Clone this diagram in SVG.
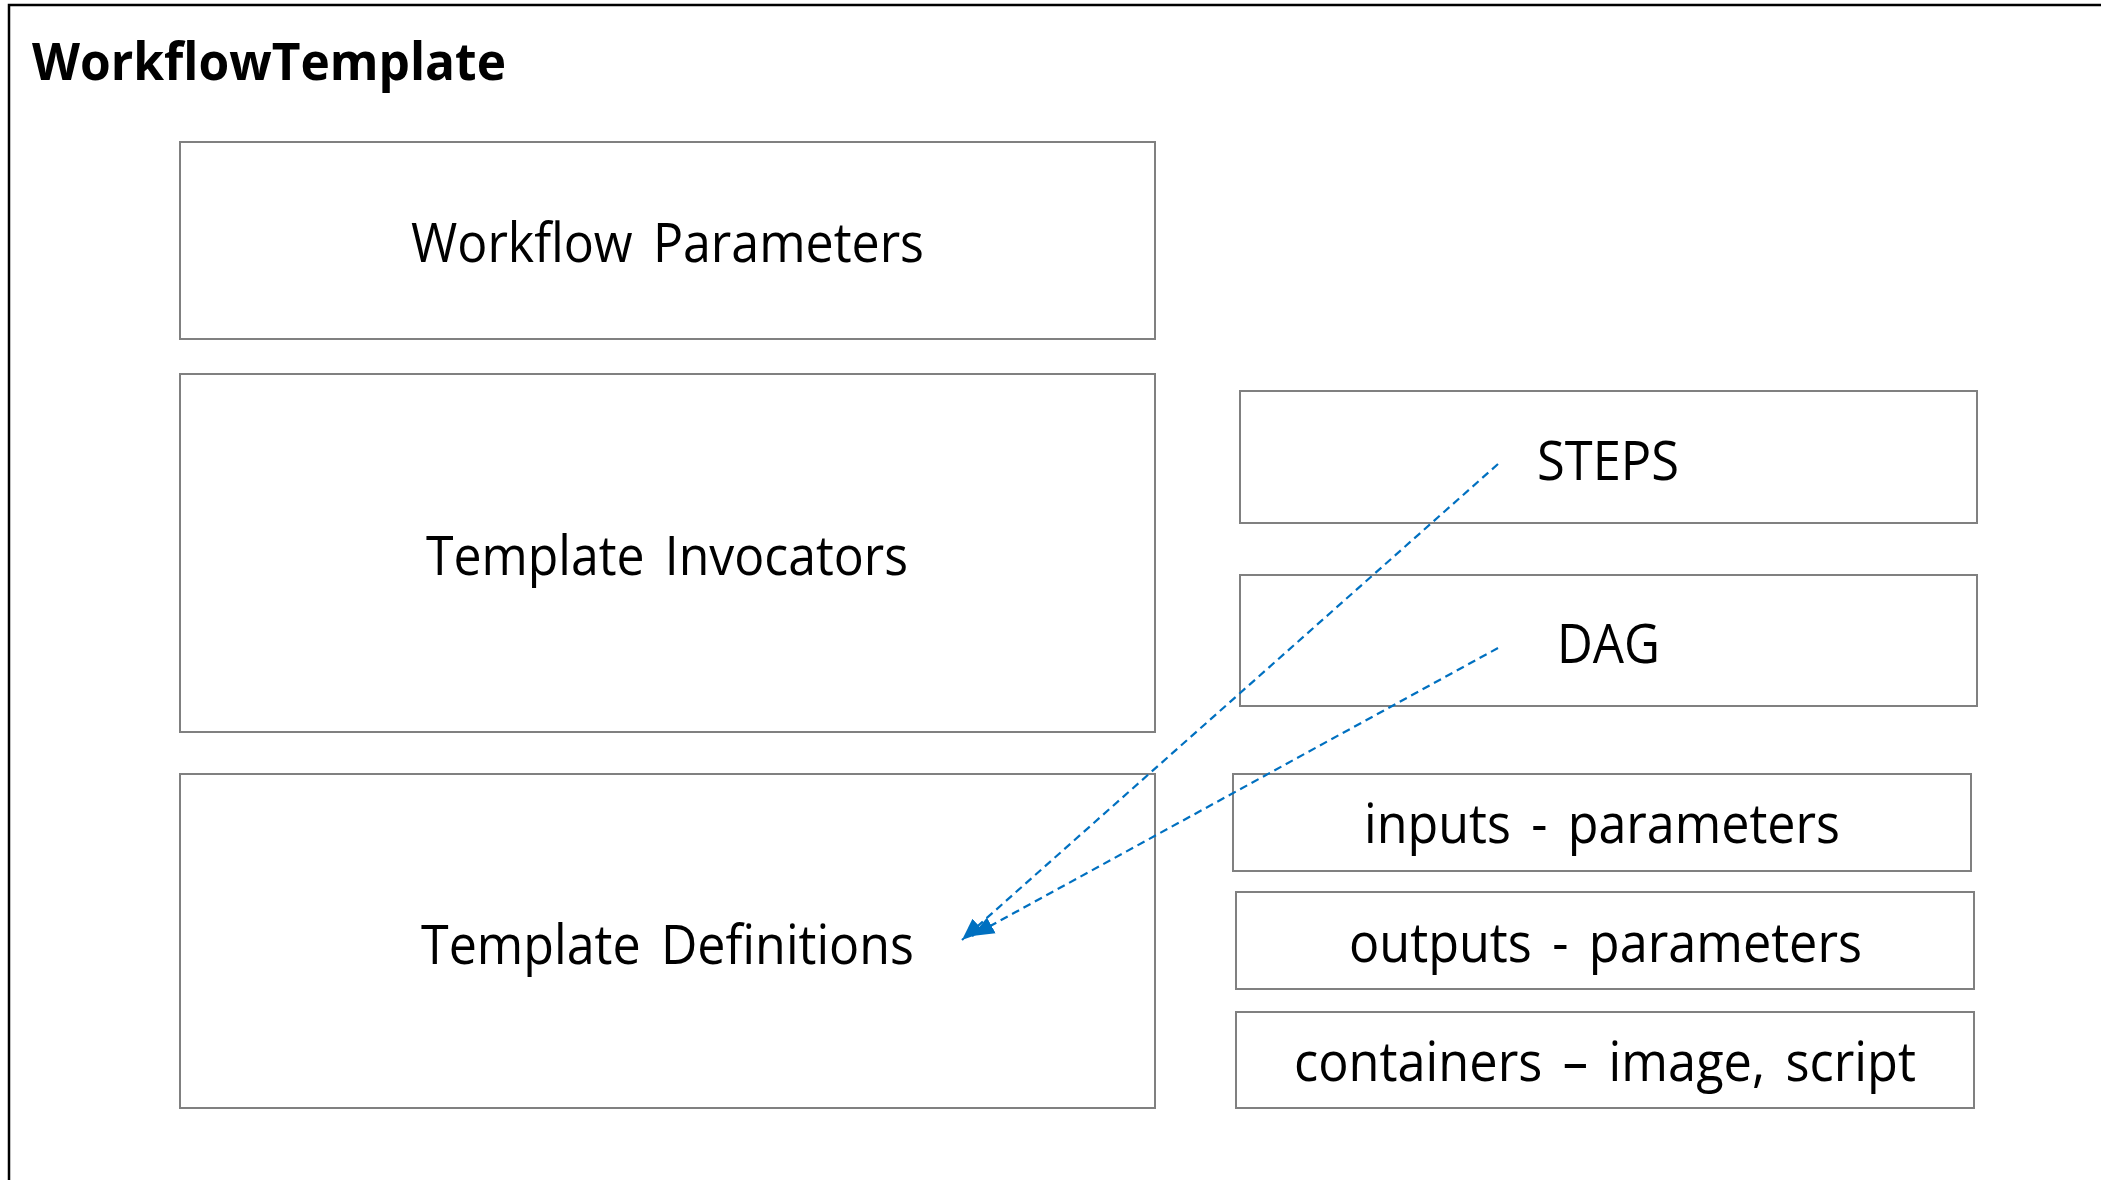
<svg xmlns="http://www.w3.org/2000/svg" width="2101" height="1180" viewBox="0 0 2101 1180">
  <style>
    .frame { fill: none; stroke: #000000; stroke-width: 2.5; }
    .box { fill: #ffffff; stroke: #808080; stroke-width: 2; }
    .title { font-family: "Open Sans", "Noto Sans", "Liberation Sans", sans-serif; font-weight: bold; font-size: 52px; fill: #000000; }
    .label { font-family: "Open Sans", "Noto Sans", "Liberation Sans", sans-serif; font-size: 55px; fill: #000000; word-spacing: 8px; }
    .link { fill: none; stroke: #0070C0; stroke-width: 2.2; stroke-dasharray: 8 5; }
  </style>
  <defs>
    <marker id="arrow" markerUnits="userSpaceOnUse" markerWidth="24" markerHeight="22" refX="22" refY="11" orient="auto">
      <path d="M0,2 L22,11 L0,20 Z" fill="#0070C0"/>
    </marker>
  </defs>

  <rect width="2101" height="1180" fill="#ffffff"/>

  <!-- outer container -->
  <g id="workflow-template">
    <rect class="frame" x="9" y="5" width="2200" height="1300"/>
    <text class="title" x="32" y="80" textLength="474" lengthAdjust="spacingAndGlyphs">WorkflowTemplate</text>
  </g>

  <g id="workflow-parameters">
    <rect class="box" x="180" y="142" width="975" height="197"/>
    <text class="label" x="411" y="262" textLength="513" lengthAdjust="spacingAndGlyphs">Workflow Parameters</text>
  </g>

  <g id="template-invocators">
    <rect class="box" x="180" y="374" width="975" height="358"/>
    <text class="label" x="426" y="575" textLength="482" lengthAdjust="spacingAndGlyphs">Template Invocators</text>
  </g>

  <g id="template-definitions">
    <rect class="box" x="180" y="774" width="975" height="334"/>
    <text class="label" x="421" y="964" textLength="493" lengthAdjust="spacingAndGlyphs">Template Definitions</text>
  </g>

  <g id="steps">
    <rect class="box" x="1240" y="391" width="737" height="132"/>
    <text class="label" x="1537" y="480" textLength="142" lengthAdjust="spacingAndGlyphs">STEPS</text>
  </g>

  <g id="dag">
    <rect class="box" x="1240" y="575" width="737" height="131"/>
    <text class="label" x="1557" y="663" textLength="103" lengthAdjust="spacingAndGlyphs">DAG</text>
  </g>

  <g id="inputs">
    <rect class="box" x="1233" y="774" width="738" height="97"/>
    <text class="label" x="1364" y="843" textLength="476" lengthAdjust="spacingAndGlyphs">inputs - parameters</text>
  </g>

  <g id="outputs">
    <rect class="box" x="1236" y="892" width="738" height="97"/>
    <text class="label" x="1349" y="962" textLength="513" lengthAdjust="spacingAndGlyphs">outputs - parameters</text>
  </g>

  <g id="containers">
    <rect class="box" x="1236" y="1012" width="738" height="96"/>
    <text class="label" x="1294" y="1081" textLength="622" lengthAdjust="spacingAndGlyphs">containers – image, script</text>
  </g>

  <!-- references from the invocators back to the definitions -->
  <g id="connectors">
    <line class="link" x1="1498" y1="464" x2="962" y2="940" marker-end="url(#arrow)"/>
    <line class="link" x1="1498" y1="648" x2="972" y2="936" marker-end="url(#arrow)"/>
  </g>
</svg>
